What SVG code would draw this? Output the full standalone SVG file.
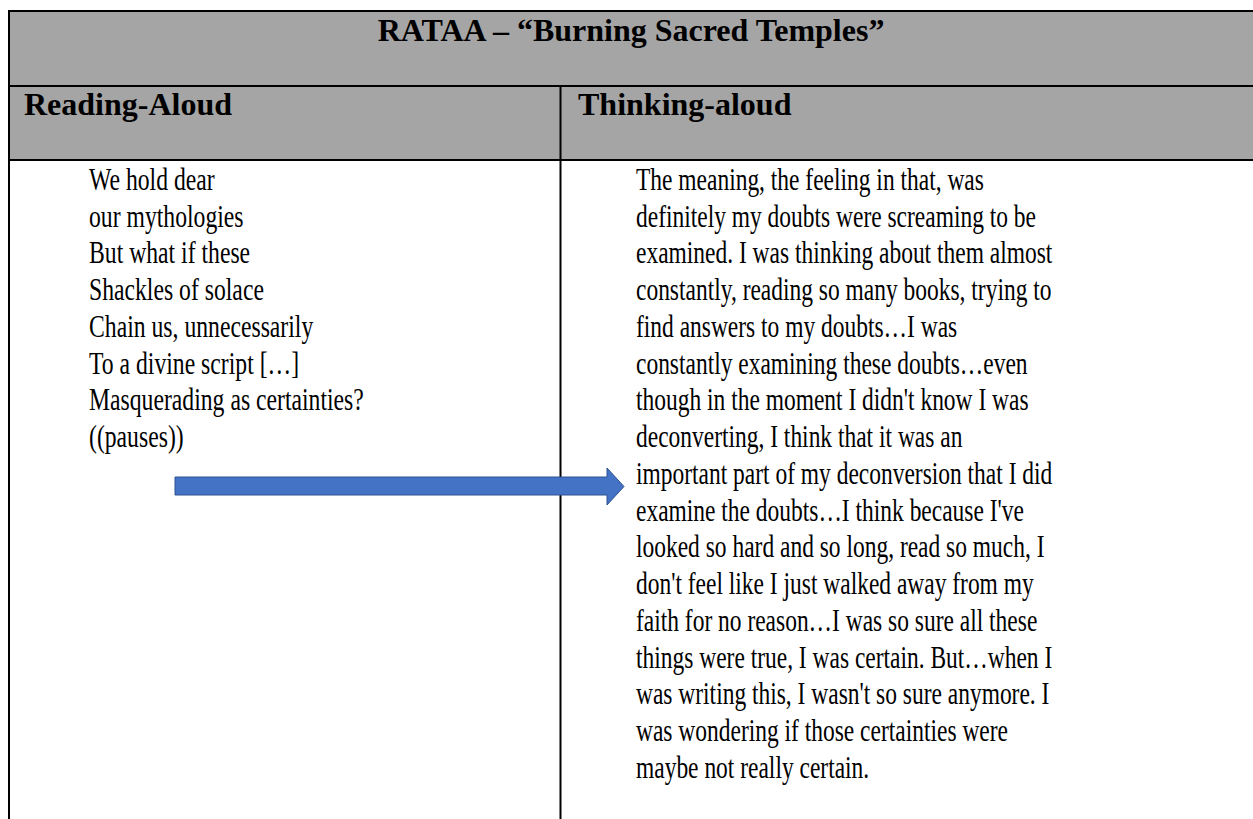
<svg xmlns="http://www.w3.org/2000/svg" width="1253" height="819" viewBox="0 0 1253 819">
<style>
.hdr{font-family:"Liberation Serif","Times New Roman",serif;font-weight:bold;font-size:32px;fill:#000}
.body{font-family:"Liberation Serif","Times New Roman",serif;font-size:31.5px;fill:#000}
.grid{stroke:#000;stroke-width:2;fill:none}
</style>
<rect x="0" y="0" width="1253" height="819" fill="#fff"/>
<g id="table">
<rect x="9" y="11" width="1250" height="149" fill="#a5a5a5"/>
<line class="grid" x1="9" y1="11" x2="1253" y2="11"/>
<line class="grid" x1="9" y1="86" x2="1253" y2="86"/>
<line class="grid" x1="9" y1="160" x2="1253" y2="160"/>
<line class="grid" x1="9" y1="10" x2="9" y2="819"/>
<line class="grid" x1="560.5" y1="86" x2="560.5" y2="819"/>
</g>
<g id="title">
<text class="hdr" x="631" y="41" text-anchor="middle">RATAA – “Burning Sacred Temples”</text>
</g>
<g id="header-reading">
<text class="hdr" x="24" y="115">Reading-Aloud</text>
</g>
<g id="header-thinking">
<text class="hdr" x="578" y="115">Thinking-aloud</text>
</g>
<g id="cell-reading" transform="translate(89,0) scale(0.752,1)">
<text class="body" x="0" y="190">We hold dear</text>
<text class="body" x="0" y="226.75">our mythologies</text>
<text class="body" x="0" y="263.5">But what if these</text>
<text class="body" x="0" y="300.25">Shackles of solace</text>
<text class="body" x="0" y="337">Chain us, unnecessarily</text>
<text class="body" x="0" y="373.75">To a divine script […]</text>
<text class="body" x="0" y="410.5">Masquerading as certainties?</text>
<text class="body" x="0" y="447.25">((pauses))</text>
</g>
<g id="cell-thinking" transform="translate(636,0) scale(0.745,1)">
<text class="body" x="0" y="190">The meaning, the feeling in that, was</text>
<text class="body" x="0" y="226.75">definitely my doubts were screaming to be</text>
<text class="body" x="0" y="263.5">examined. I was thinking about them almost</text>
<text class="body" x="0" y="300.25">constantly, reading so many books, trying to</text>
<text class="body" x="0" y="337">find answers to my doubts…I was</text>
<text class="body" x="0" y="373.75">constantly examining these doubts…even</text>
<text class="body" x="0" y="410.5">though in the moment I didn't know I was</text>
<text class="body" x="0" y="447.25">deconverting, I think that it was an</text>
<text class="body" x="0" y="484">important part of my deconversion that I did</text>
<text class="body" x="0" y="520.75">examine the doubts…I think because I've</text>
<text class="body" x="0" y="557.5">looked so hard and so long, read so much, I</text>
<text class="body" x="0" y="594.25">don't feel like I just walked away from my</text>
<text class="body" x="0" y="631">faith for no reason…I was so sure all these</text>
<text class="body" x="0" y="667.75">things were true, I was certain. But…when I</text>
<text class="body" x="0" y="704.5">was writing this, I wasn't so sure anymore. I</text>
<text class="body" x="0" y="741.25">was wondering if those certainties were</text>
<text class="body" x="0" y="778">maybe not really certain.</text>
</g>
<g id="connectors">
<polygon points="175,477 607,477 607,468 624,486.5 607,505 607,495 175,495" fill="#4472c4" stroke="#2f528f" stroke-width="1"/>
</g>
</svg>
